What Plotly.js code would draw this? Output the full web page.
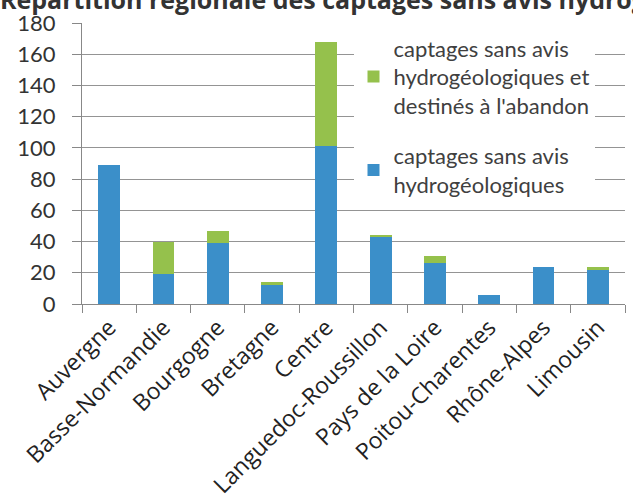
<!DOCTYPE html>
<html>
<head>
<meta charset="utf-8">
<script src="https://cdn.plot.ly/plotly-3.0.1.min.js"></script>
<style>html,body{margin:0;padding:0;background:#fff;}#chart{width:633px;height:499px;}</style>
</head>
<body>
<div id="chart"></div>
<script>
const regions = ["Auvergne", "Basse-Normandie", "Bourgogne", "Bretagne", "Centre",
  "Languedoc-Roussillon", "Pays de la Loire", "Poitou-Charentes", "Rhône-Alpes", "Limousin"];
const sansAvis = [89, 19, 39, 12, 101, 43, 26, 6, 24, 22];
const abandon = [0, 21, 8, 2, 67, 1, 5, 0, 0, 2];
const yTicks = [0, 20, 40, 60, 80, 100, 120, 140, 160, 180];
const nameBlue = "captages sans avis<br>hydrogéologiques";
const nameGreen = "captages sans avis<br>hydrogéologiques et<br>destinés à l'abandon";
const titleText = "Répartition régionale des captages sans avis hydrogéologiques";

const traces = [
  {type: "bar", x: regions, y: sansAvis, name: nameBlue, legendrank: 2, legendgroup: "blue",
   marker: {color: "#3b8fc9"}, width: 0.4},
  {type: "bar", x: regions, y: abandon, name: nameGreen, legendrank: 1, legendgroup: "green",
   marker: {color: "#95c14c"}, width: 0.4}
];

const layout = {
  width: 633, height: 499,
  barmode: "stack",
  paper_bgcolor: "#fff", plot_bgcolor: "#fff",
  margin: {l: 82, r: 8, t: 23, b: 195},
  showlegend: true,
  title: {text: "<b>" + titleText + "</b>", x: 0, xanchor: "left", xref: "container",
          y: 1, yanchor: "middle", yref: "container",
          font: {family: "Open Sans", size: 25, color: "#333"}},
  font: {family: "Lato", color: "#333"},
  xaxis: {
    type: "category", tickangle: -45, tickson: "boundaries",
    ticks: "outside", ticklen: 8, tickcolor: "#888",
    showline: true, linecolor: "#888", linewidth: 1,
    tickfont: {family: "Open Sans", size: 23, color: "#222"},
    showgrid: false, automargin: false
  },
  yaxis: {
    range: [0, 180], tickvals: yTicks, ticktext: yTicks.map(String),
    ticks: "outside", ticklen: 9, tickcolor: "#888",
    ticklabelstandoff: 12,
    showline: true, linecolor: "#888", linewidth: 1,
    showgrid: true, gridcolor: "#949494", gridwidth: 1,
    zeroline: false,
    tickfont: {family: "Lato", size: 22, color: "#333"},
    automargin: false
  },
  legend: {
    x: 0.5, y: 0.985, xanchor: "left", yanchor: "top",
    bgcolor: "#fff", traceorder: "grouped", tracegroupgap: 19,
    font: {family: "Lato", size: 22, color: "#404040"},
    itemwidth: 30
  }
};

Plotly.newPlot("chart", traces, layout, {staticPlot: true, displayModeBar: false});
</script>
</body>
</html>
